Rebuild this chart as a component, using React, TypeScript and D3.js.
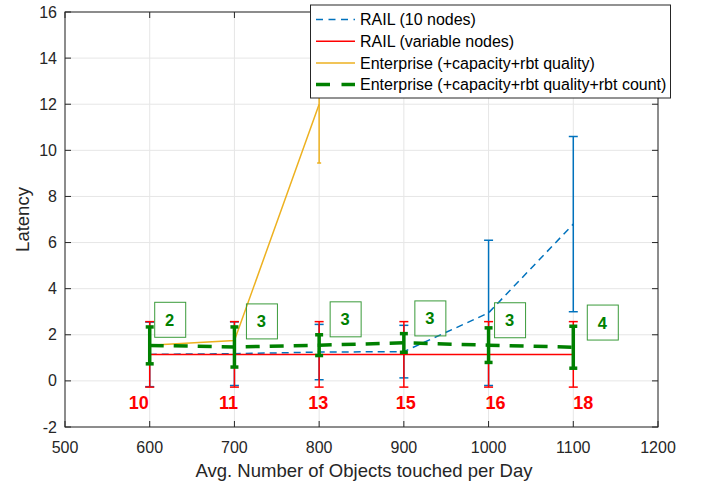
import React from "react";
import * as d3 from "d3";

const xs = [600, 700, 800, 900, 1000, 1100];
const rail10 = [1.15, 1.18, 1.25, 1.27, 2.95, 6.8];
const rail10Err = [1.4, 1.38, 1.2, 1.14, 3.15, 3.8];
const railVar = [1.15, 1.15, 1.15, 1.15, 1.15, 1.15];
const railVarErr = [1.42, 1.42, 1.42, 1.42, 1.42, 1.42];
const entX = [600, 700, 800];
const ent = [1.55, 1.75, 12.0];
const entErr = [0, 0, 2.55];
const entFull = [1.54, 1.47, 1.55, 1.65, 1.55, 1.46];
const entFullLo = [0.74, 0.6, 1.1, 1.24, 0.8, 0.55];
const entFullHi = [2.34, 2.34, 2.0, 2.05, 2.3, 2.37];
const robotCounts = ["2", "3", "3", "3", "3", "4"];
const robotLabelY = [2.65, 2.58, 2.67, 2.71, 2.63, 2.53];
const robotBoxDx = [5, 12, 11, 11, 6, 14];
const nodeCounts = ["10", "11", "13", "15", "16", "18"];
const nodeDx = [-11, -6, -1, 2, 7, 10];
const xTicks = [500, 600, 700, 800, 900, 1000, 1100, 1200];
const yTicks = [-2, 0, 2, 4, 6, 8, 10, 12, 14, 16];

const W = 702, H = 486;
const L = 65, R = 658, T = 12, B = 427;
const BLUE = "#0072BD", RED = "#FF0000", YEL = "#EDB120", GRN = "#008000";
const FONT = "'Liberation Sans', Arial, Helvetica, sans-serif";

export default function App() {
  const x = d3.scaleLinear().domain([500, 1200]).range([L, R]);
  const y = d3.scaleLinear().domain([-2, 16]).range([B, T]);
  const line = d3.line<[number, number]>().x(d => x(d[0])).y(d => y(d[1]));

  const errBar = (cx: number, lo: number, hi: number, color: string, w: number, cw: number, key: string) => (
    <g key={key} stroke={color} strokeWidth={w}>
      <line x1={x(cx)} x2={x(cx)} y1={y(lo)} y2={y(hi)} />
      <line x1={x(cx) - cw} x2={x(cx) + cw} y1={y(lo)} y2={y(lo)} />
      <line x1={x(cx) - cw} x2={x(cx) + cw} y1={y(hi)} y2={y(hi)} />
    </g>
  );

  const legendItems = [
    { label: "RAIL (10 nodes)", color: BLUE, w: 1.5, dash: "7,5.5" },
    { label: "RAIL (variable nodes)", color: RED, w: 1.5, dash: "" },
    { label: "Enterprise (+capacity+rbt quality)", color: YEL, w: 1.5, dash: "" },
    { label: "Enterprise (+capacity+rbt quality+rbt count)", color: GRN, w: 3.5, dash: "14,11.5" },
  ];

  return (
    <svg width={W} height={H} style={{ position: "absolute", left: 0, top: 0, background: "#fff" }} fontFamily={FONT}>
      <rect x={0} y={0} width={W} height={H} fill="#fff" />
      <rect x={L} y={T} width={R - L} height={B - T} fill="#fff" />
      {/* grid */}
      <g stroke="#e6e6e6" strokeWidth={1}>
        {xTicks.map(t => <line key={"gx" + t} x1={x(t)} x2={x(t)} y1={T} y2={B} />)}
        {yTicks.map(t => <line key={"gy" + t} x1={L} x2={R} y1={y(t)} y2={y(t)} />)}
      </g>
      {/* RAIL 10 nodes */}
      <path d={line(xs.map((v, i) => [v, rail10[i]]) as any) || ""} fill="none" stroke={BLUE} strokeWidth={1.5} strokeDasharray="7,5" />
      {xs.map((v, i) => errBar(v, rail10[i] - rail10Err[i], rail10[i] + rail10Err[i], BLUE, 1.5, 4.5, "b" + i))}
      {/* RAIL variable */}
      <path d={line(xs.map((v, i) => [v, railVar[i]]) as any) || ""} fill="none" stroke={RED} strokeWidth={1.5} />
      {xs.map((v, i) => errBar(v, railVar[i] - railVarErr[i], railVar[i] + railVarErr[i], RED, 1.5, 4.5, "r" + i))}
      {/* Enterprise */}
      <path d={line(entX.map((v, i) => [v, ent[i]]) as any) || ""} fill="none" stroke={YEL} strokeWidth={1.5} />
      {entX.map((v, i) => entErr[i] > 0 ? errBar(v, ent[i] - entErr[i], ent[i] + entErr[i], YEL, 1.5, 2, "y" + i) : null)}
      {/* Enterprise full */}
      <path d={line(xs.map((v, i) => [v, entFull[i]]) as any) || ""} fill="none" stroke={GRN} strokeWidth={3.5} strokeDasharray="14,10" />
      {xs.map((v, i) => errBar(v, entFullLo[i], entFullHi[i], GRN, 3.5, 4, "g" + i))}
      {/* robot count boxes */}
      {xs.map((v, i) => (
        <g key={"rb" + i}>
          <rect x={x(v) + robotBoxDx[i]} y={y(robotLabelY[i]) - 17.5} width={31} height={35} fill="none" stroke="#3a9a3a" strokeWidth={1} />
          <text x={x(v) + robotBoxDx[i] + 15} y={y(robotLabelY[i]) + 6} textAnchor="middle" fontSize={16.5} fontWeight="bold" fill={GRN}>{robotCounts[i]}</text>
        </g>
      ))}
      {/* node counts */}
      {xs.map((v, i) => (
        <text key={"nc" + i} x={x(v) + nodeDx[i]} y={y(railVar[i] - railVarErr[i]) + 21.5} textAnchor="middle" fontSize={18} fontWeight="bold" fill={RED}>{nodeCounts[i]}</text>
      ))}
      {/* box & ticks */}
      <rect x={L} y={T} width={R - L} height={B - T} fill="none" stroke="#262626" strokeWidth={1} />
      <g stroke="#262626" strokeWidth={1}>
        {xTicks.map(t => (
          <g key={"tx" + t}>
            <line x1={x(t)} x2={x(t)} y1={B} y2={B - 6} />
            <line x1={x(t)} x2={x(t)} y1={T} y2={T + 6} />
          </g>
        ))}
        {yTicks.map(t => (
          <g key={"ty" + t}>
            <line x1={L} x2={L + 6} y1={y(t)} y2={y(t)} />
            <line x1={R} x2={R - 6} y1={y(t)} y2={y(t)} />
          </g>
        ))}
      </g>
      <g fill="#262626" fontSize={16}>
        {xTicks.map(t => <text key={"lx" + t} x={x(t)} y={B + 26} textAnchor="middle">{t}</text>)}
        {yTicks.map(t => <text key={"ly" + t} x={L - 8} y={y(t) + 5.5} textAnchor="end">{t}</text>)}
      </g>
      <text x={364} y={477} textAnchor="middle" fontSize={18.5} fill="#262626">Avg. Number of Objects touched per Day</text>
      <text transform={`translate(29,${(T + B) / 2}) rotate(-90)`} textAnchor="middle" fontSize={18.5} fill="#262626">Latency</text>
      {/* legend */}
      <g>
        <rect x={310.5} y={5} width={360} height={93} fill="#fff" stroke="#262626" strokeWidth={1} />
        {legendItems.map((it, i) => (
          <g key={"lg" + i}>
            <line x1={316} x2={355} y1={19.5 + i * 21.7} y2={19.5 + i * 21.7} stroke={it.color} strokeWidth={it.w} strokeDasharray={it.dash} />
            <text x={360} y={19.5 + i * 21.7 + 5.8} fontSize={16} fill="#000">{it.label}</text>
          </g>
        ))}
      </g>
    </svg>
  );
}
